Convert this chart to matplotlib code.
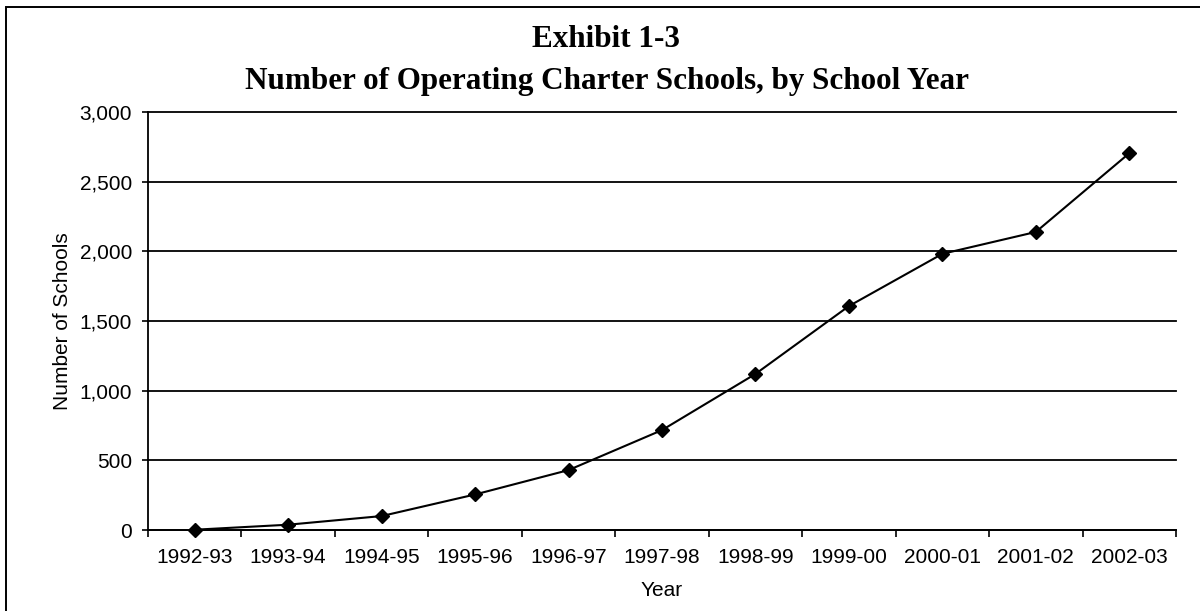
import numpy as np
import matplotlib
matplotlib.use("Agg")
import matplotlib.pyplot as plt
from matplotlib.ticker import FuncFormatter, FixedLocator
from matplotlib.patches import Rectangle

years = ['1992-93', '1993-94', '1994-95', '1995-96', '1996-97', '1997-98',
         '1998-99', '1999-00', '2000-01', '2001-02', '2002-03']
schools = [2, 38, 100, 255, 430, 717, 1120, 1607, 1982, 2139, 2704]
y_ticks = [0, 500, 1000, 1500, 2000, 2500, 3000]

W, H = 1200, 611
fig = plt.figure(figsize=(W / 100, H / 100), dpi=100)

# plot area in pixels: x 148..1176, y 112..530
ax = fig.add_axes([148 / W, 1 - 530 / H, (1176 - 148) / W, (530 - 112) / H])

x = np.arange(len(years))
ax.plot(x, schools, color='black', lw=1.5, marker='D', ms=7, zorder=3,
        clip_on=False)

ax.set_xlim(-0.5, len(years) - 0.5)
ax.set_ylim(0, 3000)

# y axis
ax.set_yticks(y_ticks)
ax.yaxis.set_major_formatter(FuncFormatter(lambda v, p: f'{int(v):,}'))
ax.tick_params(axis='y', direction='out', length=4.5, width=1.2, pad=7,
               labelsize=15, color='black')
ax.yaxis.grid(True, color='black', lw=1.3)
ax.set_axisbelow(True)

# x axis: tick marks between categories, labels under the categories
ax.xaxis.set_major_locator(FixedLocator(np.arange(len(years) + 1) - 0.5))
ax.xaxis.set_major_formatter(FuncFormatter(lambda v, p: ''))
ax.xaxis.set_minor_locator(FixedLocator(x))
ax.set_xticklabels(years, minor=True)
ax.tick_params(axis='x', which='major', direction='out', length=5, width=1.2)
ax.tick_params(axis='x', which='minor', length=0, pad=13, labelsize=15)

for s in ['top', 'right']:
    ax.spines[s].set_visible(False)
for s in ['left', 'bottom']:
    ax.spines[s].set_linewidth(1.3)
    ax.spines[s].set_color('black')

for lab in ax.get_xticklabels(minor=True) + ax.get_yticklabels():
    lab.set_fontfamily('Liberation Sans')

# keep the 3,000 gridline at full width
fig.canvas.draw()
for gl in ax.get_ygridlines():
    gl.set_clip_on(False)

# titles and axis labels
serif = 'Liberation Serif'
fig.text(606 / W, 1 - 47 / H, 'Exhibit 1-3', ha='center', va='baseline',
         fontsize=22.4, fontweight='bold', family=serif)
fig.text(607 / W, 1 - 89 / H,
         'Number of Operating Charter Schools, by School Year',
         ha='center', va='baseline', fontsize=22.4, fontweight='bold',
         family=serif)
fig.text(63 / W, 1 - 321 / H, 'Number of Schools', rotation=90,
         ha='center', va='center', fontsize=15, family='Liberation Sans')
fig.text(662 / W, 1 - 590 / H, 'Year', ha='center', va='center',
         fontsize=15, family='Liberation Sans')

# outer frame (right and bottom edges fall outside the picture)
fig.patches.append(Rectangle((6 / W, -0.05), 1.1, 1 - 7 / H + 0.05,
                             transform=fig.transFigure, fill=False,
                             edgecolor='black', lw=1.4))

fig.savefig('out.png', dpi=100, facecolor='white')
